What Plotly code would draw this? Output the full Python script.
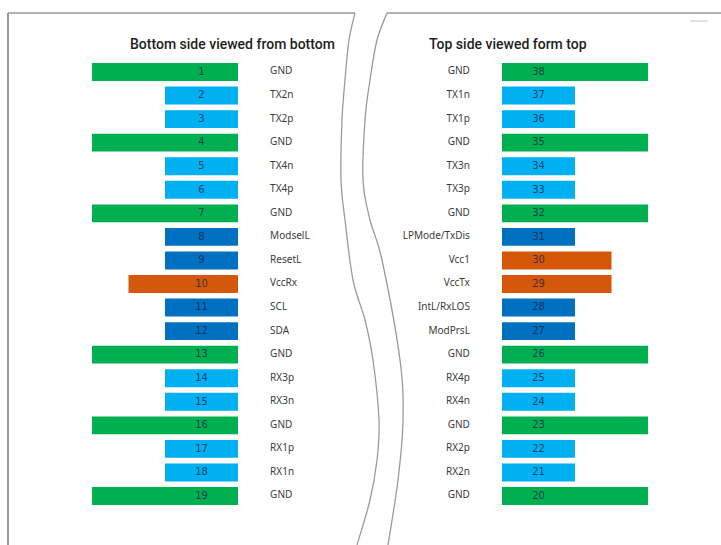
import plotly.graph_objects as go

# ---------------- data ----------------
left_pins = list(range(1, 20))
left_names = ["GND", "TX2n", "TX2p", "GND", "TX4n", "TX4p", "GND", "ModselL", "ResetL", "VccRx",
              "SCL", "SDA", "GND", "RX3p", "RX3n", "GND", "RX1p", "RX1n", "GND"]
left_types = ["G", "H", "H", "G", "H", "H", "G", "L", "L", "P", "L", "L", "G", "H", "H", "G", "H", "H", "G"]

right_pins = list(range(38, 19, -1))
right_names = ["GND", "TX1n", "TX1p", "GND", "TX3n", "TX3p", "GND", "LPMode/TxDis", "Vcc1", "VccTx",
               "IntL/RxLOS", "ModPrsL", "GND", "RX4p", "RX4n", "GND", "RX2p", "RX2n", "GND"]
right_types = ["G", "H", "H", "G", "H", "H", "G", "L", "P", "P", "L", "L", "G", "H", "H", "G", "H", "H", "G"]

type_length = {"G": 2.0, "P": 1.5, "H": 1.0, "L": 1.0}
type_color = {"G": "#00B050", "P": "#D4570A", "H": "#00B0F0", "L": "#0070C0"}

left_title = "Bottom side viewed from bottom"
right_title = "Top side viewed form top"

# ---------------- geometry helpers ----------------
W, H = 721, 545
def px(x):
    return x / W
def py(y):
    return 1 - y / H

rows = list(range(19))
PXU = 73.0  # pixels per length unit

fig = go.Figure()

num_font = dict(family="Liberation Sans Narrow, DejaVu Sans Condensed, Roboto Condensed, Liberation Sans",
                size=11, color="rgba(20,35,70,0.8)")
name_font = dict(family="Noto Sans, Open Sans, Liberation Sans", size=10, color="#3a3a3a")

# left panel
fig.add_trace(go.Bar(orientation="h", y=rows, x=[type_length[t] for t in left_types], base=0,
                     marker=dict(color=[type_color[t] for t in left_types], line=dict(width=0)),
                     width=0.76, xaxis="x", yaxis="y", hoverinfo="skip", showlegend=False))
fig.add_trace(go.Scatter(mode="text", y=rows, x=[0.5] * 19, text=[str(p) for p in left_pins],
                         textposition="middle center", textfont=num_font,
                         xaxis="x", yaxis="y", hoverinfo="skip", showlegend=False, cliponaxis=False))
fig.add_trace(go.Scatter(mode="text", y=rows, x=[-0.44] * 19, text=left_names,
                         textposition="middle right", textfont=name_font,
                         xaxis="x", yaxis="y", hoverinfo="skip", showlegend=False, cliponaxis=False))

# right panel
fig.add_trace(go.Bar(orientation="h", y=rows, x=[type_length[t] for t in right_types], base=0,
                     marker=dict(color=[type_color[t] for t in right_types], line=dict(width=0)),
                     width=0.76, xaxis="x2", yaxis="y", hoverinfo="skip", showlegend=False))
fig.add_trace(go.Scatter(mode="text", y=rows, x=[0.5] * 19, text=[str(p) for p in right_pins],
                         textposition="middle center", textfont=num_font,
                         xaxis="x2", yaxis="y", hoverinfo="skip", showlegend=False, cliponaxis=False))
fig.add_trace(go.Scatter(mode="text", y=rows, x=[-0.44] * 19, text=right_names,
                         textposition="middle left", textfont=name_font,
                         xaxis="x2", yaxis="y", hoverinfo="skip", showlegend=False, cliponaxis=False))

ax_common = dict(showgrid=False, zeroline=False, showticklabels=False, ticks="", showline=False, fixedrange=True)
row_px = (496 - 72) / 18
y_top = 72 - row_px / 2
y_bot = 496 + row_px / 2

fig.update_layout(
    width=W, height=H, margin=dict(l=0, r=0, t=0, b=0),
    paper_bgcolor="white", plot_bgcolor="white",
    barmode="overlay",
    xaxis=dict(domain=[px(238 - 2 * PXU), px(238 + 0.5 * PXU)], range=[2, -0.5], anchor="y", **ax_common),
    xaxis2=dict(domain=[px(502 - 0.5 * PXU), px(502 + 2 * PXU)], range=[-0.5, 2], anchor="y", **ax_common),
    yaxis=dict(domain=[py(y_bot), py(y_top)], range=[18.5, -0.5], anchor="x", **ax_common),
)

# titles
title_font = dict(family="Roboto, Liberation Sans", size=14, color="#1e1e1e", weight=500)
fig.add_annotation(xref="paper", yref="paper", x=px(232), y=py(44), text=left_title, showarrow=False,
                   font=title_font, xanchor="center", yanchor="middle")
fig.add_annotation(xref="paper", yref="paper", x=px(508), y=py(44), text=right_title, showarrow=False,
                   font=title_font, xanchor="center", yanchor="middle")

# frame with break curves
def catmull(points):
    pts = [(px(x), py(y)) for x, y in points]
    d = f"M {pts[0][0]:.5f},{pts[0][1]:.5f}"
    for i in range(len(pts) - 1):
        p0 = pts[i - 1] if i > 0 else pts[i]
        p1 = pts[i]
        p2 = pts[i + 1]
        p3 = pts[i + 2] if i + 2 < len(pts) else pts[i + 1]
        c1 = (p1[0] + (p2[0] - p0[0]) / 6, p1[1] + (p2[1] - p0[1]) / 6)
        c2 = (p2[0] - (p3[0] - p1[0]) / 6, p2[1] - (p3[1] - p1[1]) / 6)
        d += f" C {c1[0]:.5f},{c1[1]:.5f} {c2[0]:.5f},{c2[1]:.5f} {p2[0]:.5f},{p2[1]:.5f}"
    return d

left_curve = [(355, 13), (349, 40), (345, 80), (342, 120), (341, 180), (345, 220), (353, 280),
              (365, 320), (373, 360), (379, 420), (377, 460), (370, 500), (357, 545)]
right_curve = [(387, 13), (377, 40), (370, 80), (365, 120), (363, 180), (370, 220), (382, 260),
               (400, 360), (403, 420), (398, 480), (388, 545)]

frame_line = dict(color="#9a9a9a", width=1.3)
fig.add_shape(type="path", xref="paper", yref="paper", path=catmull(left_curve), line=frame_line)
fig.add_shape(type="path", xref="paper", yref="paper", path=catmull(right_curve), line=frame_line)
fig.add_shape(type="line", xref="paper", yref="paper", x0=px(8), y0=py(13), x1=px(355), y1=py(13), line=frame_line)
fig.add_shape(type="line", xref="paper", yref="paper", x0=px(387), y0=py(13), x1=px(721), y1=py(13), line=frame_line)
fig.add_shape(type="line", xref="paper", yref="paper", x0=px(8), y0=py(13), x1=px(8), y1=py(545),
              line=dict(color="#9a9a9a", width=2))
fig.add_shape(type="line", xref="paper", yref="paper", x0=px(690), y0=py(21), x1=px(708), y1=py(21),
              line=dict(color="#d8d8d8", width=1.5))

fig.write_html("out.html", config={"displayModeBar": False},
               post_script="document.body.style.margin='0px';")
